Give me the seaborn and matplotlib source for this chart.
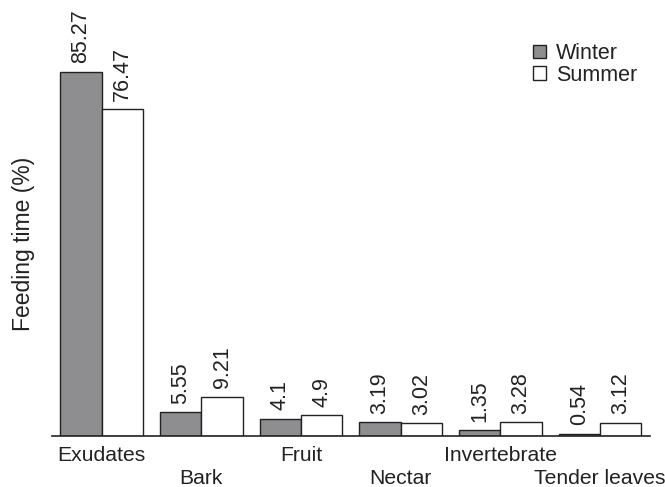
import matplotlib
matplotlib.use("Agg")
import matplotlib.pyplot as plt
import matplotlib.patches as mpatches
import seaborn as sns
import pandas as pd

categories = ["Exudates", "Bark", "Fruit", "Nectar", "Invertebrate", "Tender leaves"]
winter = [85.27, 5.55, 4.1, 3.19, 1.35, 0.54]
summer = [76.47, 9.21, 4.9, 3.02, 3.28, 3.12]
seasons = ["Winter", "Summer"]
colors = {"Winter": "#8e8e90", "Summer": "#ffffff"}

df = pd.DataFrame({
    "food": categories * 2,
    "season": ["Winter"] * len(categories) + ["Summer"] * len(categories),
    "time": winter + summer,
})

sns.set_style("white")
plt.rcParams["font.family"] = ["Liberation Sans", "DejaVu Sans"]
plt.rcParams["text.color"] = "#222222"

fig = plt.figure(figsize=(6.65, 4.87), dpi=100)
ax = fig.add_axes([0.078, 0.1047, 0.899, 0.877])

sns.barplot(data=df, x="food", y="time", hue="season", hue_order=seasons,
            order=categories, palette=colors, width=0.83, edgecolor="#222222",
            linewidth=1.0, ax=ax, legend=False)

for cont in ax.containers:
    ax.bar_label(cont, fmt="%g", rotation=90, padding=6, fontsize=15.5, color="#222222")

ax.set_xlim(-0.5, len(categories) - 0.5)
ax.set_ylim(0, 100)
ax.set_yticks([])
ax.set_ylabel("Feeding time (%)", fontsize=16.5, color="#222222")
ax.yaxis.set_label_coords(-0.028, 0.45)
ax.set_xlabel("")

# staggered category labels: every second one sits a row lower
ax.set_xticks(range(len(categories)))
ax.set_xticklabels(categories, fontsize=15.2, color="#222222")
ax.tick_params(axis="x", which="major", length=0, pad=7)
for i, tick in enumerate(ax.xaxis.get_major_ticks()):
    if i % 2 == 1:
        tick.set_pad(23.5)
ax.set_xticks([i - 0.5 for i in range(len(categories) + 1)], minor=True)
ax.tick_params(axis="x", which="minor", length=5, width=1, color="#222222", direction="out")

for s in ["top", "right", "left"]:
    ax.spines[s].set_visible(False)
ax.spines["bottom"].set_color("#222222")
ax.spines["bottom"].set_linewidth(1.2)

handles = [mpatches.Patch(facecolor=colors[s], edgecolor="#222222", label=s) for s in seasons]
ax.legend(handles=handles, loc="upper right", bbox_to_anchor=(1.005, 0.955), frameon=False,
          fontsize=15.5, handlelength=0.6, handleheight=0.6, handletextpad=0.5,
          labelspacing=0.02, borderaxespad=0.3)

fig.savefig("out.png", dpi=100)
